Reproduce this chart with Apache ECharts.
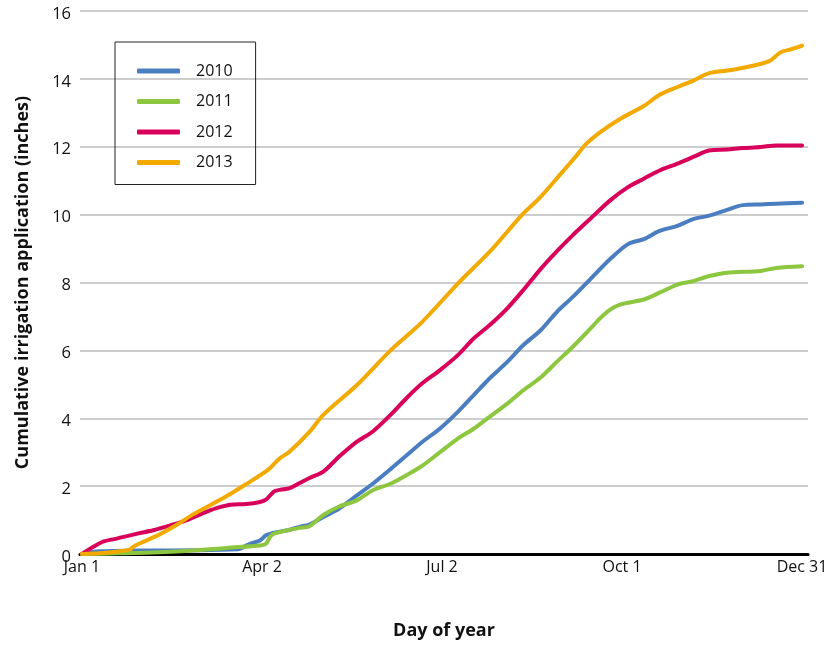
<!DOCTYPE html>
<html>
<head>
<meta charset="utf-8">
<script src="https://cdn.jsdelivr.net/npm/echarts@6/dist/echarts.min.js"></script>
<style>
html,body{margin:0;padding:0;background:#fff;}
#chart{width:839px;height:645px;}
</style>
</head>
<body>
<div id="chart"></div>
<script>
// Tick positions (day of year) and their labels
const tickDays = [1, 92, 183, 274, 365];
const tickLabels = ['Jan 1', 'Apr 2', 'Jul 2', 'Oct 1', 'Dec 31'];

const seriesNames = ['2010', '2011', '2012', '2013'];

const days2010 = [1,10,30,60,80,81,86,91,94,98,105,111,116,123,131,140,148,157,165,173,182,191,199,207,216,224,233,241,249,258,268,277,285,293,302,310,318,327,335,344,352,365];
const vals2010 = [0,0.08,0.1,0.11,0.14,0.16,0.3,0.4,0.55,0.63,0.7,0.8,0.87,1.09,1.34,1.73,2.07,2.5,2.9,3.3,3.7,4.19,4.68,5.17,5.66,6.15,6.6,7.13,7.57,8.1,8.69,9.13,9.28,9.52,9.67,9.87,9.97,10.14,10.28,10.3,10.32,10.35];

const days2011 = [1,20,40,57,74,91,94,96,98,105,111,116,123,131,140,148,157,165,173,182,191,199,207,216,224,233,241,249,258,263,268,273,285,293,302,310,318,327,344,352,365];
const vals2011 = [0,0.02,0.05,0.1,0.18,0.25,0.3,0.5,0.6,0.7,0.77,0.82,1.15,1.4,1.58,1.88,2.07,2.32,2.6,3.0,3.4,3.69,4.04,4.43,4.82,5.21,5.66,6.1,6.64,6.95,7.2,7.35,7.5,7.7,7.94,8.04,8.19,8.29,8.34,8.43,8.48];

const days2012 = [1,7,12,19,29,37,46,54,62,69,76,84,91,94,98,101,106,111,116,123,131,140,148,157,165,173,182,191,199,207,216,224,233,241,249,258,268,277,285,293,302,310,318,327,335,344,352,365];
const vals2012 = [0,0.22,0.37,0.46,0.6,0.7,0.85,1.0,1.2,1.35,1.45,1.47,1.53,1.6,1.84,1.89,1.94,2.09,2.24,2.43,2.87,3.31,3.61,4.1,4.59,5.03,5.42,5.86,6.35,6.74,7.24,7.77,8.41,8.92,9.39,9.88,10.42,10.81,11.06,11.3,11.5,11.7,11.89,11.92,11.96,11.99,12.04,12.04];

const days2013 = [1,10,20,25,28,40,50,57,74,84,95,101,106,116,123,140,157,173,191,207,224,232,243,251,256,263,273,285,293,302,310,318,330,344,349,354,360,365];
const vals2013 = [0,0.02,0.08,0.13,0.25,0.57,0.9,1.16,1.7,2.06,2.48,2.82,3.02,3.6,4.1,4.98,6.0,6.84,7.97,8.9,10.03,10.47,11.2,11.74,12.09,12.43,12.82,13.2,13.53,13.76,13.95,14.17,14.27,14.44,14.54,14.78,14.88,14.98];

const colors = ['#4a7ec0', '#8dc63f', '#d9005b', '#f2a900'];
const allDays = [days2010, days2011, days2012, days2013];
const allVals = [vals2010, vals2011, vals2012, vals2013];

const FONT = 'Open Sans';

const chart = echarts.init(document.getElementById('chart'));
chart.setOption({
  animation: false,
  color: colors,
  textStyle: { fontFamily: FONT },
  grid: { left: 80, top: 11, width: 728, height: 544, containLabel: false },
  legend: {
    orient: 'vertical',
    left: 115,
    top: 42,
    data: seriesNames,
    icon: 'roundRect',
    itemWidth: 43,
    itemHeight: 5,
    itemGap: 14.5,
    borderColor: '#222',
    borderWidth: 1,
    padding: [21, 23, 14, 22],
    textStyle: { fontFamily: FONT, fontSize: 16, color: '#111', lineHeight: 16, padding: [0, 0, 0, 11] }
  },
  xAxis: {
    type: 'value',
    min: 0,
    max: 368,
    name: 'Day of year',
    nameLocation: 'middle',
    nameGap: 68,
    nameTextStyle: { fontFamily: FONT, fontSize: 18, fontWeight: 'bold', color: '#111' },
    axisLine: { show: true, lineStyle: { color: '#000', width: 3 } },
    axisTick: { show: false },
    splitLine: { show: false },
    axisLabel: {
      customValues: tickDays,
      formatter: function (v) { const i = tickDays.indexOf(v); return i >= 0 ? tickLabels[i] : ''; },
      fontFamily: FONT, fontSize: 16, color: '#111', margin: 5
    }
  },
  yAxis: {
    type: 'value',
    min: 0,
    max: 16,
    interval: 2,
    name: 'Cumulative irrigation application (inches)',
    nameLocation: 'middle',
    nameGap: 48,
    nameTextStyle: { fontFamily: FONT, fontSize: 18, fontWeight: 'bold', color: '#111' },
    axisLine: { show: false },
    axisTick: { show: false },
    axisLabel: { fontFamily: FONT, fontSize: 16.5, color: '#111', margin: 9, verticalAlign: 'top', lineHeight: 6 },
    splitLine: { lineStyle: { color: '#bdbdbd', width: 1.5 } }
  },
  series: seriesNames.map(function (name, k) {
    return {
      name: name,
      type: 'line',
      showSymbol: false,
      symbol: 'none',
      smooth: 0.3,
      lineStyle: { width: 4, color: colors[k], cap: 'round', join: 'round' },
      itemStyle: { color: colors[k] },
      data: allDays[k].map(function (d, i) { return [d, allVals[k][i]]; })
    };
  })
});
</script>
</body>
</html>
